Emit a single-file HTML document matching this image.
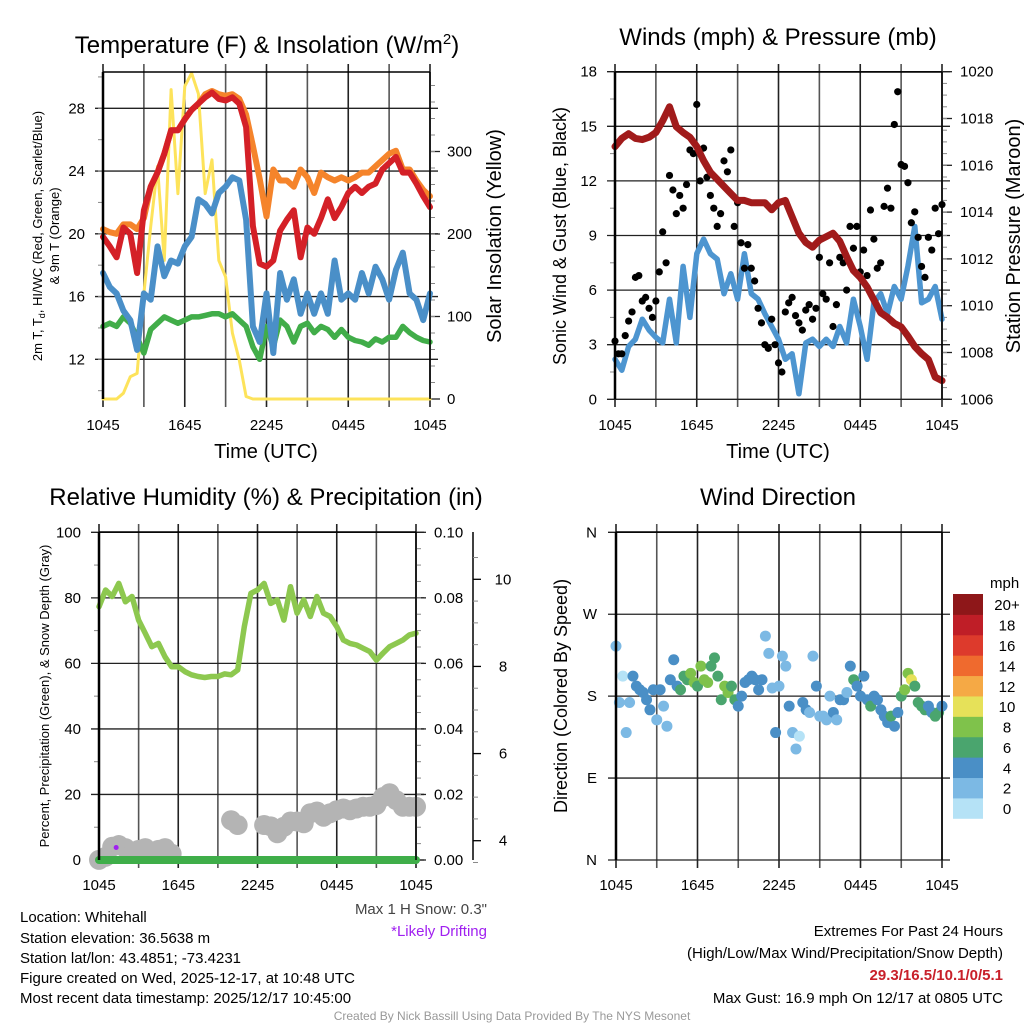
<!DOCTYPE html>
<html><head><meta charset="utf-8"><style>
html,body{margin:0;padding:0;background:#fff;}
svg{display:block;font-family:"Liberation Sans",Arial,sans-serif;}
</style></head><body>
<svg id="fig" width="1024" height="1024" viewBox="0 0 1024 1024" xmlns="http://www.w3.org/2000/svg">
<rect width="1024" height="1024" fill="#fff"/>
<g id="p1"></g>
<g id="p2"></g>
<g id="p3"></g>
<g id="p4"></g>
<text x="267" y="53" font-size="24" text-anchor="middle">Temperature (F) &amp; Insolation (W/m<tspan dy="-9" font-size="15">2</tspan><tspan dy="9">)</tspan></text>
<text x="778" y="45" font-size="24" text-anchor="middle">Winds (mph) &amp; Pressure (mb)</text>
<text x="266" y="505" font-size="24" text-anchor="middle">Relative Humidity (%) &amp; Precipitation (in)</text>
<text x="778" y="505" font-size="24" text-anchor="middle">Wind Direction</text>
<text x="266" y="458" font-size="20" text-anchor="middle">Time (UTC)</text>
<text x="778" y="458" font-size="20" text-anchor="middle">Time (UTC)</text>
<text transform="translate(42,236) rotate(-90)" font-size="13" text-anchor="middle">2m T, T<tspan font-size="9" dy="3">d</tspan><tspan dy="-3">, HI/WC (Red, Green, Scarlet/Blue)</tspan></text>
<text transform="translate(59,236) rotate(-90)" font-size="13" text-anchor="middle">&amp; 9m T (Orange)</text>
<text transform="translate(501,236) rotate(-90)" font-size="20" text-anchor="middle">Solar Insolation (Yellow)</text>
<text transform="translate(566,236) rotate(-90)" font-size="18" text-anchor="middle">Sonic Wind &amp; Gust (Blue, Black)</text>
<text transform="translate(1020,236) rotate(-90)" font-size="20" text-anchor="middle">Station Pressure (Maroon)</text>
<text transform="translate(49,696) rotate(-90)" font-size="13" text-anchor="middle">Percent, Precipitation (Green), &amp; Snow Depth (Gray)</text>
<text transform="translate(567,696) rotate(-90)" font-size="18" text-anchor="middle">Direction (Colored By Speed)</text>
<g font-size="15">
<text x="20" y="922">Location: Whitehall</text>
<text x="20" y="943">Station elevation: 36.5638 m</text>
<text x="20" y="963">Station lat/lon: 43.4851; -73.4231</text>
<text x="20" y="983">Figure created on Wed, 2025-12-17, at 10:48 UTC</text>
<text x="20" y="1003">Most recent data timestamp: 2025/12/17 10:45:00</text>
<text x="487" y="914" text-anchor="end" fill="#444">Max 1 H Snow: 0.3"</text>
<text x="487" y="936" text-anchor="end" fill="#a020f0">*Likely Drifting</text>
<text x="1003" y="936" text-anchor="end">Extremes For Past 24 Hours</text>
<text x="1003" y="958" text-anchor="end">(High/Low/Max Wind/Precipitation/Snow Depth)</text>
<text x="1003" y="980" text-anchor="end" fill="#c8202a" font-weight="bold">29.3/16.5/10.1/0/5.1</text>
<text x="1003" y="1003" text-anchor="end">Max Gust: 16.9 mph On 12/17 at 0805 UTC</text>
</g>
<text x="512" y="1020" font-size="12" fill="#999" text-anchor="middle">Created By Nick Bassill Using Data Provided By The NYS Mesonet</text>
</svg>
<script>
// ---- data (half-hour steps, 0..24 h) ----
const xTickLabels = ["1045","","1645","","2245","","0445","","1045"];
const tempRed = [19.8,19.2,18.5,20.4,20.0,17.5,21.5,23,23.9,25.1,26.6,26.6,27.3,27.9,28.3,28.7,29,28.6,28.5,28.7,28.3,26.8,20.5,18.1,17.9,18.3,20.2,20.9,21.5,18.5,20.4,20,21,22.2,21,21.7,22.6,23,22.6,23,23.2,24.1,24.5,24.9,23.9,23.9,23.2,22.4,21.7];
const temp9m = [20.3,20.1,20.0,20.6,20.6,20.3,21.0,23,23.9,25.1,26.6,26.6,27.3,27.9,28.3,28.9,29.1,28.9,28.8,28.9,28.6,27.6,25.6,23.5,21.1,24.1,23.4,23.4,23.0,24.1,23.6,22.6,23.9,23.6,23.4,23.6,23.4,23.6,23.9,23.9,24.3,24.7,25.1,25.3,24.1,24.1,23.4,22.8,22.4];
const tempBlue = [17.5,16.6,16.2,15.1,14.5,12.6,16.2,15.8,19.2,17.3,18.3,18.1,19.2,19.8,22.2,21.9,21.3,22.6,23,23.6,23.4,20.9,14.1,13.1,16.2,12.4,17.5,15.8,17.1,14.9,16.2,14.9,16.2,14.9,18.3,15.8,16.2,15.8,17.5,16.2,17.9,17.1,15.8,17.7,18.8,16.2,15.8,14.5,16.2];
const dewGreen = [14.1,14.3,14.1,14.7,14.3,13.4,12.4,13.9,14.3,14.7,14.5,14.3,14.5,14.7,14.7,14.8,14.9,14.9,14.7,14.9,14.5,14.1,12.8,12.0,14.1,12.8,14.5,14.1,13.1,14.1,14.3,13.7,14.1,13.9,13.4,13.9,13.4,13.2,13.1,12.9,13.3,13.1,13.4,13.4,14.1,13.7,13.4,13.2,13.1];
const solar = [0,0,0,7,27,31,128,209,282,168,375,249,379,395,370,249,290,168,148,80,47,3,0,0,0,0,0,0,0,0,0,0,0,0,0,0,0,0,0,0,0,0,0,0,0,0,0,0,0];
const pressure = [1016.8,1017.15,1017.35,1017.15,1017.1,1017.2,1017.4,1017.9,1018.5,1017.65,1017.4,1017.2,1016.8,1016.2,1015.7,1015.4,1015.1,1014.8,1014.5,1014.5,1014.4,1014.4,1014.4,1014.1,1014.4,1014.5,1013.8,1013.1,1012.7,1012.5,1012.8,1012.95,1013.1,1012.75,1012.1,1011.5,1011.2,1010.8,1010.25,1009.7,1009.5,1009.25,1009.1,1008.7,1008.25,1007.95,1007.7,1006.95,1006.8];
const windSpeed = [2.2,1.6,2.9,3.3,4.4,3.8,3.4,3.1,5.5,3.1,7.3,4.5,8.0,8.8,8.0,7.7,5.8,6.9,5.5,8.0,5.8,5.5,4.7,4.0,3.3,2.2,2.5,0.3,3.1,3.3,2.9,3.3,2.9,4.0,3.1,5.5,4.0,2.2,5.3,5.8,4.7,6.2,5.5,7.3,9.5,5.3,5.5,6.2,4.4];
const rh = [77.3,82.4,80.4,84.4,78.8,80.4,73.2,69.2,65.1,66.1,62,59,59,57.5,56.5,56,55.7,56,56,56.8,56.5,58,71.2,81.4,82.4,84.4,78.3,79.4,73.2,83.4,75.3,79.4,74.3,80.4,75.3,74.3,71.2,67.1,66.1,65.6,64.6,63.6,61,63.1,65.1,66.1,67.1,68.7,69.2];
const precip = [0,0,0,0,0,0,0,0,0,0,0,0,0,0,0,0,0,0,0,0,0,0,0,0,0,0,0,0,0,0,0,0,0,0,0,0,0,0,0,0,0,0,0,0,0,0,0,0,0];
const snowDepth = [3.56,3.63,3.86,3.9,3.83,3.7,3.79,3.83,3.75,3.79,3.83,3.7,null,null,null,null,null,null,null,null,4.47,4.36,null,null,null,4.36,4.33,4.17,4.32,4.44,4.44,4.40,4.63,4.67,4.55,4.63,4.70,4.74,4.70,4.74,4.78,4.78,4.82,5.0,5.09,4.93,4.78,4.78,4.78];
// ---- quarter-hour steps ----
const gust = [3.2,2.5,2.5,3.5,4.3,4.8,6.7,6.8,5.4,5.6,5.0,4.5,5.4,7.0,9.2,7.5,12.3,11.5,10.2,11.2,10.5,11.8,13.7,13.5,16.2,12.0,13.8,12.2,11.2,10.5,9.5,10.2,13.1,12.5,13.7,9.5,10.8,8.6,7.2,8.5,7.2,6.5,5.0,4.2,3.0,2.8,4.4,3.0,2.0,1.5,4.8,5.3,5.6,4.6,4.2,3.8,4.9,5.2,4.4,5.0,7.8,5.8,5.5,7.5,4.0,5.2,7.8,7.5,6.0,9.5,8.3,9.5,7.0,8.2,6.8,10.4,8.8,7.2,7.5,10.6,11.6,10.5,15.1,16.9,12.9,12.8,11.9,9.7,10.3,8.9,7.3,6.7,8.9,8.2,10.5,9.1,10.7];
const windDir = [235,173,202,140,173,202,191,187,184,176,165,187,154,187,169,147,198,220,191,187,202,198,205,195,191,213,198,195,213,222,202,176,191,184,191,176,169,180,195,198,202,198,187,198,246,227,189,140,191,224,213,169,140,122,136,173,165,162,224,191,158,158,154,180,162,154,176,176,184,213,198,191,180,202,176,169,180,176,165,158,151,158,147,162,180,187,205,198,191,173,169,165,169,162,158,162,169];
const dirSpeed = [3,3,1.8,3,3,4.5,4.5,4.5,4,4,4.5,4.5,3,4.5,3,3,4.5,4.5,4,6.5,6.5,6.5,8,8.5,7,8,8.5,8,6.5,7,6.5,6.5,8,8,7,6,5,4,4.5,4.5,4.5,4,4,4,3,3,3,4,2.5,3,3,4.5,3,3,1.5,4.5,4.5,3,3,4.5,3,3,3,3,4.5,3,4.5,4.5,3,4.5,6.5,4.5,4,4.5,4.5,6.5,4.5,4.5,4.5,4.5,4.5,6.5,4.5,4.5,6.5,8,8,10.5,7,6.5,6,6,4.5,4.5,6.5,6.5,4.5];
const dirTickLabels = ["N","E","S","W","N"];
const cbLabels = ["0","2","4","6","8","10","12","14","16","18","20+"];
const cbColors = ["#b5e2f6","#7cb9e4","#4a8fc6","#4aa56e","#7fc24b","#e6e159","#f5a945","#ef6a2e","#dd3a2c","#bf1e27","#8e1719"];

const NS="http://www.w3.org/2000/svg";
function mk(parent,tag,attrs){const e=document.createElementNS(NS,tag);for(const k in attrs)e.setAttribute(k,attrs[k]);parent.appendChild(e);return e;}
function lin(d0,d1,r0,r1){return v=>r0+(v-d0)/(d1-d0)*(r1-r0);}
function pathFrom(vals,step,xs,ys){let d="",pen=false;vals.forEach((v,i)=>{if(v===null){pen=false;return;}d+=(pen?"L":"M")+xs(i*step).toFixed(1)+","+ys(v).toFixed(1);pen=true;});return d;}

function frame(g,x0,x1,y0,y1,rightLine){
  const fr=mk(g,"g",{});
  
  
  mk(fr,"line",{x1:x0,y1:y0,x2:x1,y2:y0,stroke:"#000","stroke-width":1.5});
  mk(fr,"line",{x1:x0,y1:y0,x2:x0,y2:y1,stroke:"#000","stroke-width":2.5});
  if(rightLine) mk(fr,"line",{x1:x1,y1:y0,x2:x1,y2:y1,stroke:"#000","stroke-width":1.5});
}
function xGrid(g,x0,x1,y0,y1,labelY){
  const xs=lin(0,24,x0,x1);
  const gg=mk(g,"g",{});
  
  
  xTickLabels.forEach((lab,i)=>{
    const x=xs(i*3);
    mk(gg,"line",{x1:x,y1:y0-8,x2:x,y2:y1+8,stroke:i%2?"#555":"#222","stroke-width":1.6});
    if(lab){const t=mk(gg,"text",{x:x,y:labelY,"font-size":15,"text-anchor":"middle"});t.textContent=lab;
      
      }
  });
  return xs;
}
function yAxis(g,ticks,ys,x0,x1,labelX,anchor,grid,side,minor){
  const gg=mk(g,"g",{});
  
  
  ticks.forEach(tk=>{
    const y=ys(tk.v);
    if(grid) mk(gg,"line",{x1:x0-8,y1:y,x2:x1+8,y2:y,stroke:"#222","stroke-width":1.3});
    else if(side==="left") mk(gg,"line",{x1:x0-8,y1:y,x2:x0,y2:y,stroke:"#222","stroke-width":1.3});
    else mk(gg,"line",{x1:x1,y1:y,x2:x1+10,y2:y,stroke:"#222","stroke-width":1.3});
    const t=mk(gg,"text",{x:labelX,y:y+5,"font-size":15,"text-anchor":anchor});t.textContent=tk.l;
    
    
  });
  (minor||[]).forEach(v=>{const y=ys(v);
    if(side==="left") mk(gg,"line",{x1:x0-5,y1:y,x2:x0,y2:y,stroke:"#888","stroke-width":1});
    else mk(gg,"line",{x1:x1,y1:y,x2:x1+5,y2:y,stroke:"#888","stroke-width":1});});
}
function series(g,vals,step,xs,ys,color,w,name){
  const p=mk(g,"path",{d:pathFrom(vals,step,xs,ys),fill:"none",stroke:color,"stroke-width":w,"stroke-linejoin":"round","stroke-linecap":"round"});
  
  
}
function range(a,b,s){const r=[];for(let v=a;v<=b+1e-9;v+=s)r.push(+v.toFixed(4));return r;}

// ---- Panel 1 ----
(function(){
  const g=document.getElementById("p1");
  const X0=103,X1=430,Y0=72,Y1=399;
  const ys=lin(12,28,359.3,108.3), yr=lin(0,300,399,151.5);
  const xs=xGrid(g,X0,X1,Y0,Y1,430);
  yAxis(g,[12,16,20,24,28].map(v=>({v,l:String(v)})),ys,X0,X1,85,"end",true,"left",range(10,30,2));
  yAxis(g,[0,100,200,300].map(v=>({v,l:String(v)})),yr,X0,X1,447,"start",false,"right",range(20,380,20));
  series(g,solar,0.5,xs,yr,"#fde35b",3,"solar-line");
  series(g,dewGreen,0.5,xs,ys,"#41ad49",5.5,"dewpoint-line");
  series(g,tempBlue,0.5,xs,ys,"#4a8fc8",6,"windchill-line");
  series(g,temp9m,0.5,xs,ys,"#f5842b",6,"temp-9m-line");
  series(g,tempRed,0.5,xs,ys,"#d42027",6,"temp-2m-line");
  frame(g,X0,X1,Y0,Y1,true);
})();

// ---- Panel 2 ----
(function(){
  const g=document.getElementById("p2");
  const X0=615,X1=942,Y0=72,Y1=399;
  const ys=lin(0,18,399.3,71.7), yp=lin(1006,1020,399.3,71.7);
  const xs=xGrid(g,X0,X1,Y0,Y1,430);
  yAxis(g,[0,3,6,9,12,15,18].map(v=>({v,l:String(v)})),ys,X0,X1,597,"end",true,"left",range(1.5,16.5,3));
  yAxis(g,range(1006,1020,2).map(v=>({v,l:String(v)})),yp,X0,X1,960,"start",false,"right",range(1006.5,1019.5,0.5));
  series(g,windSpeed,0.5,xs,ys,"#4d95d0",5.5,"wind-speed-line");
  const gg=mk(g,"g",{});
  
  
  gust.forEach((v,i)=>{const c=mk(gg,"circle",{cx:xs(i*0.25),cy:ys(v),r:3.6,fill:"#000"});
    
    });
  series(g,pressure,0.5,xs,yp,"#a11b1b",7,"pressure-line");
  frame(g,X0,X1,Y0,Y1,true);
})();

// ---- Panel 3 ----
(function(){
  const g=document.getElementById("p3");
  const X0=99,X1=416,Y0=532,Y1=860;
  const ys=lin(0,100,860,532.3), ypr=lin(0,0.1,860,532.3), ysn=lin(4,10,840.7,579.3);
  const xs=xGrid(g,X0,X1,Y0,Y1,890);
  yAxis(g,[0,20,40,60,80,100].map(v=>({v,l:String(v)})),ys,X0,X1,81,"end",true,"left",range(10,90,20));
  yAxis(g,[0,0.02,0.04,0.06,0.08,0.10].map(v=>({v,l:v.toFixed(2)})),ypr,X0,X1,434,"start",false,"right",range(0.005,0.095,0.005));
  const ax=mk(g,"g",{});
  
  
  mk(ax,"line",{x1:473,y1:532,x2:473,y2:860,stroke:"#000","stroke-width":1.5});
  [4,6,8,10].forEach(v=>{const y=ysn(v);mk(ax,"line",{x1:473,y1:y,x2:481,y2:y,stroke:"#000","stroke-width":1.3});
    const t=mk(ax,"text",{x:503,y:y+5,"font-size":15,"text-anchor":"middle"});t.textContent=String(v);
    
    });
  range(3.5,10.5,0.5).forEach(v=>{if(v%2){const y=ysn(v);mk(ax,"line",{x1:473,y1:y,x2:478,y2:y,stroke:"#888","stroke-width":1});}});
  const sg=mk(g,"g",{});
  
  
  snowDepth.forEach((v,i)=>{if(v===null)return;const c=mk(sg,"circle",{cx:xs(i*0.5),cy:ysn(v),r:10,fill:"#b4b4b4"});
    
    });
  series(g,rh,0.5,xs,ys,"#8dc84f",5.5,"humidity-line");
  series(g,precip,0.5,xs,ypr,"#3fae49",8,"precipitation-line");
  const d=mk(g,"circle",{cx:xs(1.3),cy:847.5,r:2.5,fill:"#a020f0"});
  
  
  frame(g,X0,X1,Y0,Y1,true);
})();

// ---- Panel 4 ----
(function(){
  const g=document.getElementById("p4");
  const X0=616,X1=942,Y0=532,Y1=860;
  const ys=lin(0,360,860,532.3);
  const xs=xGrid(g,X0,X1,Y0,Y1,890);
  yAxis(g,dirTickLabels.map((l,i)=>({v:i*90,l})),ys,X0,X1,597,"end",true,"left",[]);
  const dg=mk(g,"g",{});
  
  
  const n=Math.min(windDir.length,dirSpeed.length);
  for(let i=0;i<n;i++){
    const bin=Math.min(10,Math.floor(dirSpeed[i]/2));
    const c=mk(dg,"circle",{cx:xs(i*0.25),cy:ys(windDir[i]),r:5.5,fill:cbColors[bin]});
    
    
  }
  frame(g,X0,X1,Y0,Y1,true);
  const cb=mk(g,"g",{});
  
  
  const bh=(818.3-594)/11;
  cbLabels.forEach((l,i)=>{
    const y=818.3-(i+1)*bh;
    const r=mk(cb,"rect",{x:953,y:y,width:30,height:bh+0.5,fill:cbColors[i]});
    
    
    const t=mk(cb,"text",{x:1007,y:y+bh/2+6,"font-size":15,"text-anchor":"middle"});t.textContent=l;
    
    
  });
  const u=mk(cb,"text",{x:990,y:588,"font-size":15});u.textContent="mph";
  
  
})();
</script>
</body></html>
